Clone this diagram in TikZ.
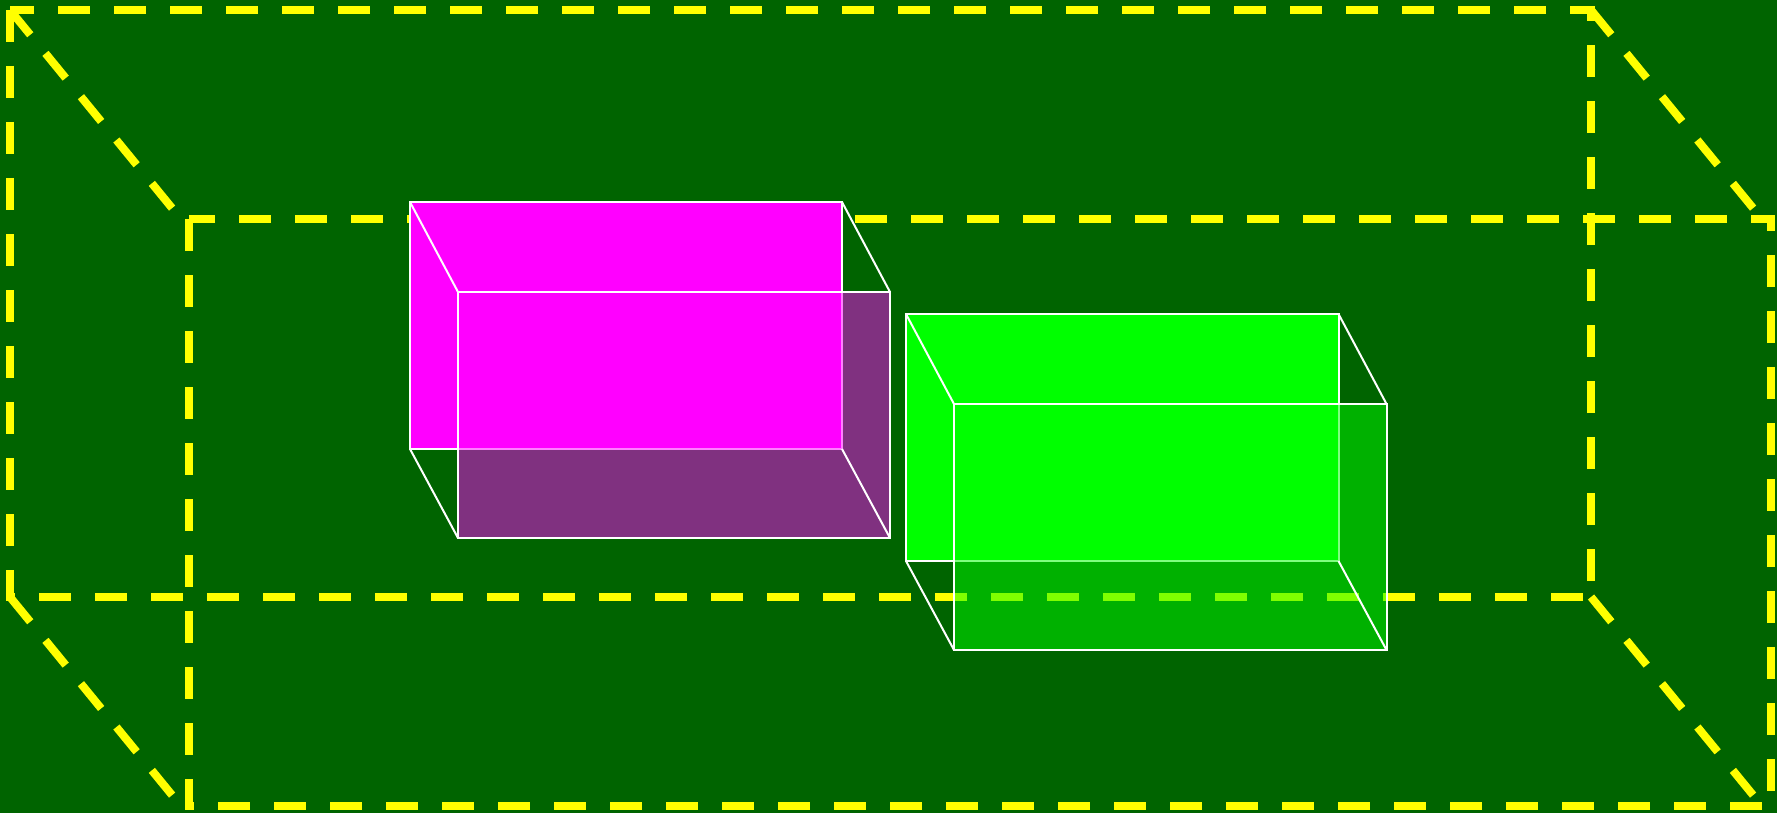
\documentclass[tikz,border=0pt]{standalone}
\usepackage{xcolor}
\definecolor{darkbg}{RGB}{0,100,0}
\definecolor{roomyellow}{RGB}{255,255,0}
\definecolor{boxmagenta}{RGB}{255,0,255}
\definecolor{boxgreen}{RGB}{0,255,0}

\begin{document}
\begin{tikzpicture}[
    x=1pt, y=-1pt,
    room/.style={draw=roomyellow, line width=8pt, dash pattern=on 32pt off 24pt},
    edge/.style={draw=white, line width=2pt},
    backface/.style={edge, fill=#1},
    frontface/.style={edge, fill=#1, fill opacity=0.5},
  ]
    \useasboundingbox (0,0) rectangle (1777,813);
    \fill[darkbg] (0,0) rectangle (1777,813);

    % dashed room
    \coordinate (RA) at (10,10);
    \coordinate (RB) at (1591,10);
    \coordinate (RC) at (1591,597);
    \coordinate (RD) at (10,597);
    \coordinate (RE) at (189,219);
    \coordinate (RF) at (1771,219);
    \coordinate (RG) at (1771,806);
    \coordinate (RH) at (189,806);
    \draw[room] (RA) -- (RD) -- (RC) -- (RB) -- cycle;
    \draw[room] (RE) -- (RH) -- (RG) -- (RF) -- cycle;
    \draw[room] (RA) -- ++(171,209);
    \draw[room] (RB) -- ++(171,209);
    \draw[room] (RC) -- ++(171,209);
    \draw[room] (RD) -- ++(171,209);

    % magenta box
    \coordinate (MA) at (410,202);
    \coordinate (MB) at (842,449);
    \coordinate (MC) at (458,292);
    \coordinate (MD) at (890,538);
    \draw[backface=boxmagenta] (MA) rectangle (MB);
    \draw[frontface=boxmagenta] (MC) rectangle (MD);
    \draw[edge] (MA) -- (MC);
    \draw[edge] (MA -| MB) -- (MC -| MD);
    \draw[edge] (MB) -- (MD);
    \draw[edge] (MA |- MB) -- (MC |- MD);

    % green box
    \coordinate (GA) at (906,314);
    \coordinate (GB) at (1338.5,561);
    \coordinate (GC) at (954,404);
    \coordinate (GD) at (1386.5,650);
    \draw[backface=boxgreen] (GA) rectangle (GB);
    \draw[frontface=boxgreen] (GC) rectangle (GD);
    \draw[edge] (GA) -- (GC);
    \draw[edge] (GA -| GB) -- (GC -| GD);
    \draw[edge] (GB) -- (GD);
    \draw[edge] (GA |- GB) -- (GC |- GD);
  \end{tikzpicture}
\end{document}
